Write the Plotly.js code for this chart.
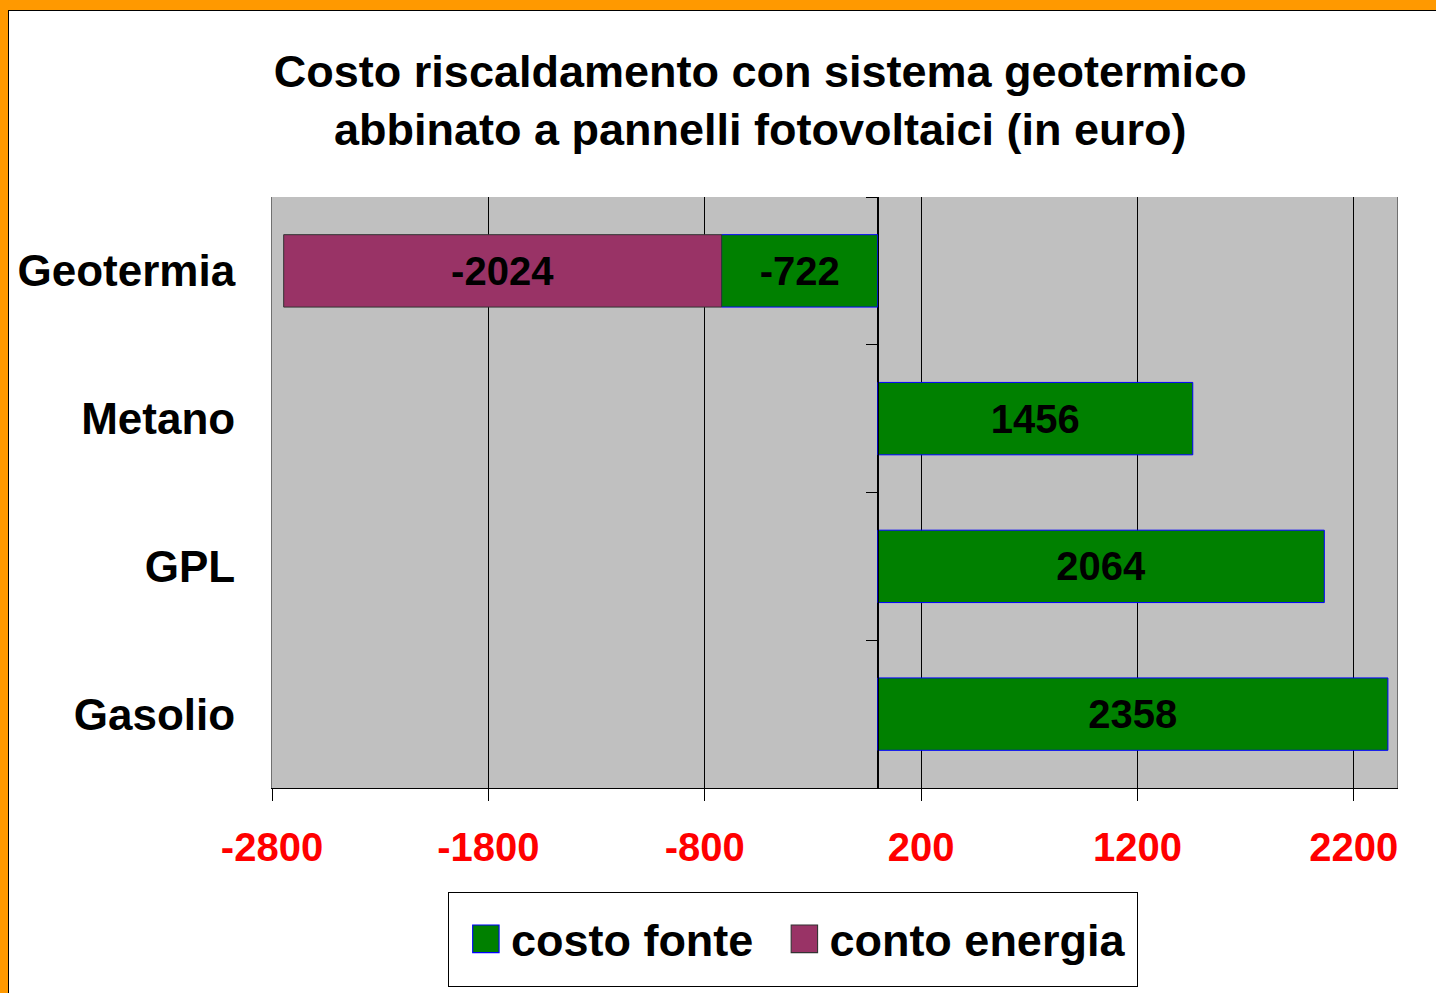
<!DOCTYPE html>
<html>
<head>
<meta charset="utf-8">
<script src="https://cdn.plot.ly/plotly-3.0.1.min.js"></script>
<style>
html,body{margin:0;padding:0;width:1436px;height:993px;overflow:hidden;background:#FF9900;}
#frame{position:absolute;left:8px;top:10px;width:1428px;height:983px;border-left:1px solid #000;border-top:1px solid #000;background:#fff;overflow:hidden;}
#chart{position:absolute;left:0;top:0;width:1427px;height:982px;}
</style>
</head>
<body>
<div id="frame"><div id="chart"></div></div>
<script>
var categories = ["Geotermia", "Metano", "GPL", "Gasolio"];
var costoFonte = [-722, 1456, 2064, 2358];
var contoEnergia = [-2024, null, null, null];
var seriesNames = ["costo fonte", "conto energia"];
var xTicks = [-2800, -1800, -800, 200, 1200, 2200];

var font = "Liberation Sans, Arial, Helvetica, sans-serif";

var traces = [
  {
    type: "bar", orientation: "h", name: seriesNames[0],
    y: categories, x: costoFonte,
    marker: {color: "#008000", line: {color: "#0000FF", width: 1}},
    text: costoFonte.map(function(v){return v === null ? "" : String(v);}),
    textposition: "inside", insidetextanchor: "middle",
    textfont: {family: font, size: 40, color: "#000", weight: "bold"},
    hoverinfo: "x+y"
  },
  {
    type: "bar", orientation: "h", name: seriesNames[1],
    y: categories, x: contoEnergia,
    marker: {color: "#993366", line: {color: "#333333", width: 1}},
    text: contoEnergia.map(function(v){return v === null ? "" : String(v);}),
    textposition: "inside", insidetextanchor: "middle",
    textfont: {family: font, size: 40, color: "#000", weight: "bold"},
    hoverinfo: "x+y"
  },
  {
    type: "scatter", mode: "markers", y: categories, x: [0,0,0,0],
    yaxis: "y2", marker: {opacity: 0}, showlegend: false, hoverinfo: "skip"
  }
];

var layout = {
  width: 1427, height: 982,
  margin: {l: 263, r: 39, t: 186, b: 205},
  paper_bgcolor: "#ffffff",
  plot_bgcolor: "#C0C0C0",
  barmode: "relative",
  bargap: 0.51,
  title: {
    text: "Costo riscaldamento con sistema geotermico<br>abbinato a pannelli fotovoltaici (in euro)",
    font: {family: font, size: 45, color: "#000", weight: "bold"},
    xref: "paper", x: 0.434, xanchor: "center",
    yref: "container", y: 0.923, yanchor: "top"
  },
  xaxis: {
    range: [-2800, 2400],
    tickvals: xTicks,
    ticktext: xTicks.map(String),
    tickfont: {family: font, size: 40, color: "#FF0000", weight: "bold"},
    showgrid: true, gridcolor: "#000000", gridwidth: 1,
    zeroline: true, zerolinecolor: "#000000", zerolinewidth: 1,
    showline: true, linecolor: "#000000", linewidth: 1,
    ticks: "outside", ticklen: 12, tickcolor: "#000000",
    ticklabelstandoff: 12,
    fixedrange: true
  },
  yaxis: {
    type: "category",
    categoryorder: "array", categoryarray: categories,
    autorange: "reversed",
    tickfont: {family: font, size: 44, color: "#000", weight: "bold"},
    ticks: "", ticklabelstandoff: 27,
    showline: true, linecolor: "#707070", linewidth: 1, mirror: true,
    showgrid: false, fixedrange: true
  },
  yaxis2: {
    type: "category",
    categoryorder: "array", categoryarray: categories,
    overlaying: "y", matches: "y",
    anchor: "free", position: 2800 / 5200, side: "left",
    showticklabels: false, ticks: "outside", ticklen: 12, tickcolor: "#000",
    tickson: "boundaries",
    showline: true, linecolor: "#000", linewidth: 1,
    showgrid: false, zeroline: false, fixedrange: true
  },
  legend: {
    orientation: "h",
    x: 0.463, xanchor: "center",
    y: -0.176, yanchor: "top",
    xref: "paper", yref: "paper",
    bgcolor: "#ffffff", bordercolor: "#000000", borderwidth: 1,
    font: {family: font, size: 45, color: "#000", weight: "bold"},
    traceorder: "normal",
    itemwidth: 40
  },
  showlegend: true
};

function parseTranslate(el) {
  var t = el.getAttribute("transform") || "";
  var m = /translate\(\s*([-\d.e]+)[ ,]+([-\d.e]+)\s*\)/.exec(t);
  return m ? [parseFloat(m[1]), parseFloat(m[2])] : [0, 0];
}

Plotly.newPlot("chart", traces, layout, {displayModeBar: false, staticPlot: true}).then(function(gd){
  var pts = gd.querySelectorAll(".legend .legendpoints path");
  pts.forEach(function(p){
    var t = p.getAttribute("transform") || "";
    p.setAttribute("transform", t + " scale(2.2,2.3)");
    p.style.strokeWidth = "0.5px";
  });
  var leg = gd.querySelector(".legend");
  if (!leg) return;
  var padL = 12, gap = 21, padR = 6, padT = 10, padB = 11;
  var sb = leg.querySelector(".scrollbox");
  if (sb) sb.removeAttribute("clip-path");
  var items = leg.querySelectorAll(".traces");
  items.forEach(function(it, i){
    var tr = parseTranslate(it);
    it.setAttribute("transform", "translate(" + (tr[0] + padL + i * gap) + "," + (tr[1] + padT) + ")");
  });
  var bg = leg.querySelector("rect.bg");
  if (bg) {
    var w = parseFloat(bg.getAttribute("width"));
    var h = parseFloat(bg.getAttribute("height"));
    var extraW = padL + gap * (items.length - 1) + padR;
    bg.setAttribute("width", w + extraW);
    bg.setAttribute("height", h + padT + padB);
    var lt = parseTranslate(leg);
    leg.setAttribute("transform", "translate(" + (lt[0] - extraW / 2) + "," + lt[1] + ")");
  }
});
</script>
</body>
</html>
